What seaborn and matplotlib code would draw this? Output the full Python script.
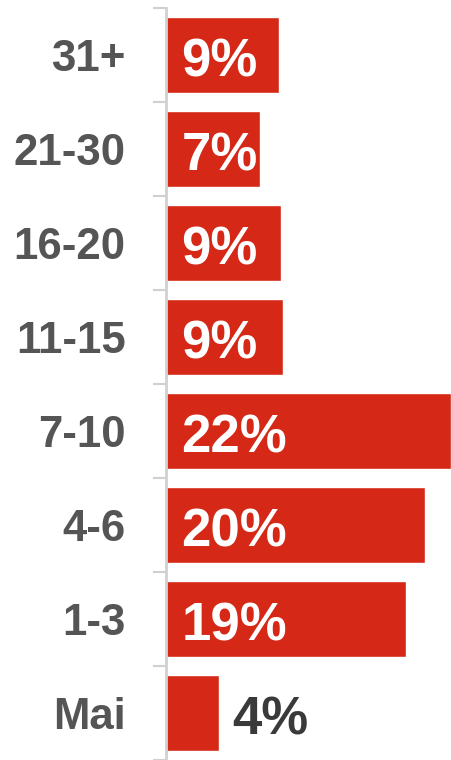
import matplotlib
matplotlib.use("Agg")
import matplotlib.pyplot as plt
import seaborn as sns
import pandas as pd
import numpy as np

categories = ["31+", "21-30", "16-20", "11-15", "7-10", "4-6", "1-3", "Mai"]
values = [8.7, 7.25, 8.9, 9.0, 22.0, 20.0, 18.5, 4.1]
labels = ["9%", "7%", "9%", "9%", "22%", "20%", "19%", "4%"]

sns.set_theme(style="white")
plt.rcParams["font.family"] = ["Liberation Sans", "DejaVu Sans"]

df = pd.DataFrame({"cat": categories, "val": values})

fig = plt.figure(figsize=(4.51, 7.60), dpi=100)
ax = fig.add_axes([166 / 451, 0.0, 1 - 166 / 451, (760 - 8) / 760])

sns.barplot(data=df, x="val", y="cat", orient="h", color="#D52816",
            saturation=1, width=0.8, ax=ax)

ax.set_xlim(0, 22)
ax.set_ylim(len(categories) - 0.5, -0.5)
ax.set_xlabel("")
ax.set_ylabel("")
ax.set_xticks([])

for s in ["top", "right", "bottom"]:
    ax.spines[s].set_visible(False)
ax.spines["left"].set_color("#d0d0d0")
ax.spines["left"].set_linewidth(2)

ax.set_yticks(np.arange(len(categories)))
ax.set_yticklabels(categories)
ax.set_yticks(np.arange(len(categories) + 1) - 0.5, minor=True)
ax.tick_params(axis="y", which="major", length=0, pad=29,
               labelsize=31.5, labelcolor="#555555")
for t in ax.get_yticklabels():
    t.set_fontweight("bold")
    t.set_verticalalignment("center_baseline")
ax.tick_params(axis="y", which="minor", length=9.5, width=1.5,
               color="#d0d0d0", left=True)

for i, (v, lab) in enumerate(zip(values, labels)):
    if v > 6:
        ax.text(1.2, i + 0.02, lab, ha="left", va="center_baseline", color="white",
                fontsize=38, fontweight="bold")
    else:
        ax.text(v + 1.05, i + 0.02, lab, ha="left", va="center_baseline", color="#3a3a3a",
                fontsize=38, fontweight="bold")

fig.savefig("out.png", dpi=100)
